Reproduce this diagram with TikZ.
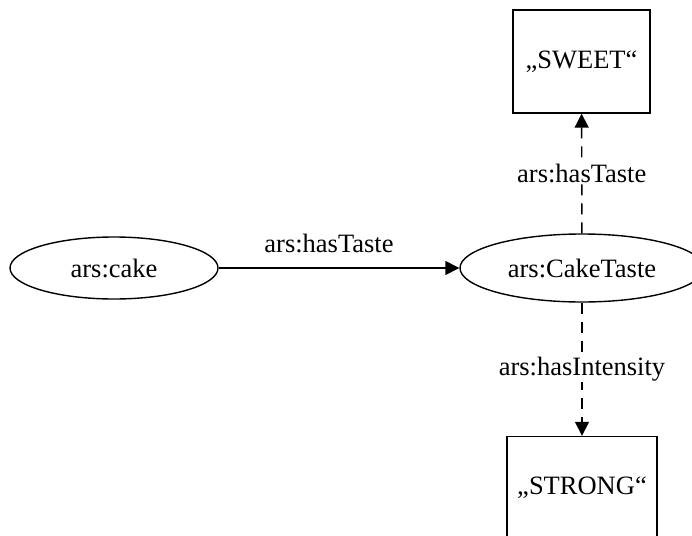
\documentclass[tikz,border=0pt]{standalone}
\usepackage{fontspec}
\setmainfont{Liberation Serif}
\usetikzlibrary{shapes.geometric,arrows.meta}
\begin{document}
\begin{tikzpicture}[x=1pt,y=-1pt,
  every node/.style={font=\fontsize{26.5}{31}\selectfont, text=black},
  resource/.style={draw, ellipse, line width=1.4pt, inner sep=0pt},
  literal/.style={draw, rectangle, line width=1.4pt, inner sep=0pt},
  link/.style={line width=1.4pt, -{Triangle[length=14pt,width=14pt]}},
  weak/.style={link, dash pattern=on 11pt off 8pt},
  tag/.style={fill=white, inner sep=1pt}]
  \useasboundingbox (0,0) rectangle (692,535);
  \clip (0,0) rectangle (692,535);

  \node[resource, minimum width=208pt, minimum height=62pt] (cake) at (114,268) {ars:cake};
  \node[resource, minimum width=244pt, minimum height=68pt] (taste) at (582,268) {ars:CakeTaste};
  \node[literal, minimum width=137pt, minimum height=103pt] (sweet) at (581.5,61.5) {„SWEET“};
  \node[literal, minimum width=150pt, minimum height=103pt] (strong) at (582,488) {„STRONG“};

  \draw[link] (cake) -- node[midway, xshift=-10pt, yshift=25pt] (l1) {ars:hasTaste} (taste);
  \draw[weak] (taste) -- node[tag, midway] (l2) {ars:hasTaste} (sweet);
  \draw[weak] (taste) -- node[tag, midway] (l3) {ars:hasIntensity} (strong);
\end{tikzpicture}
\end{document}
